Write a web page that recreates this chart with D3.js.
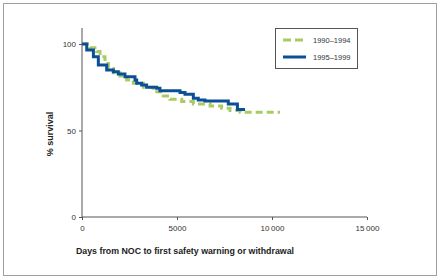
<!DOCTYPE html>
<html>
<head>
<meta charset="utf-8">
<script src="https://cdn.jsdelivr.net/npm/d3@7"></script>
<style>
  html, body { margin: 0; padding: 0; background: #fff; }
  svg { display: block; font-family: "Liberation Sans", Arial, sans-serif; }
</style>
</head>
<body>
<svg id="chart" width="440" height="279"></svg>
<script>
// ── Data (Kaplan–Meier style step curves) ──
const seriesNames = ['1990–1994', '1995–1999'];

const days9094 = [0, 420, 770, 950, 1210, 1390, 1650, 2000, 2350, 2700, 3230, 3750, 4280, 4630, 5250, 5860, 6740, 7350, 7790, 8320, 10420];
const surv9094 = [100, 97.9, 95.6, 92.7, 88.8, 85.9, 83.4, 81.5, 79.2, 77.3, 75, 72.4, 69.9, 68, 66.7, 65.3, 64.2, 62.8, 61.5, 60.5, 60.5];

const days9599 = [0, 250, 600, 860, 1300, 1650, 1910, 2260, 2790, 2880, 3140, 3400, 3930, 4100, 5160, 5420, 5860, 6120, 6470, 7700, 8180, 8580];
const surv9599 = [100, 96.5, 92.7, 87.9, 85, 84, 82.7, 81.1, 79.2, 77.3, 76.3, 75, 74.4, 73, 71.9, 70.9, 68.6, 67.6, 67, 65.3, 62.2, 62.2];

const xTicks = [0, 5000, 10000, 15000];
const yTicks = [0, 50, 100];

// ── Layout ──
const svg = d3.select('#chart');

// outer frame
svg.append('rect')
  .attr('x', 3.5).attr('y', 3.5)
  .attr('width', 433).attr('height', 272)
  .attr('fill', 'none')
  .attr('stroke', '#a0a0a0')
  .attr('stroke-width', 1);

const x = d3.scaleLinear().domain([0, 15000]).range([82, 367]);
const y = d3.scaleLinear().domain([0, 100]).range([217, 44]);

const fmt = d => d >= 10000 ? d3.format(',')(d).replace(',', '\u2009') : String(d);

// axes
const xAxis = svg.append('g')
  .attr('transform', 'translate(0,217)')
  .call(d3.axisBottom(x).tickValues(xTicks).tickSize(3).tickPadding(5).tickFormat(fmt));
const yAxis = svg.append('g')
  .attr('transform', 'translate(82,0)')
  .call(d3.axisLeft(y).tickValues(yTicks).tickSize(3).tickPadding(3));

// y axis line extends above 100
yAxis.select('.domain').attr('d', `M-0,${y(0)}V28`);
xAxis.select('.domain').attr('d', `M${x(0)},0H${x(15000)}`);

[xAxis, yAxis].forEach(ax => {
  ax.select('.domain').attr('stroke', '#555').attr('stroke-width', 1);
  ax.selectAll('.tick line').attr('stroke', '#555');
  ax.selectAll('text')
    .attr('fill', '#333')
    .attr('font-size', 8)
    .attr('font-family', '"Liberation Sans", Arial, sans-serif');
});

// axis titles
svg.append('text')
  .attr('x', 185).attr('y', 254)
  .attr('text-anchor', 'middle')
  .attr('font-size', 8.8).attr('font-weight', 'bold').attr('fill', '#222')
  .text('Days from NOC to first safety warning or withdrawal');

svg.append('text')
  .attr('transform', 'translate(53,134) rotate(-90)')
  .attr('text-anchor', 'middle')
  .attr('font-size', 9).attr('font-weight', 'bold').attr('fill', '#222')
  .text('% survival');

// ── Curves ──
const line = d3.line()
  .x(d => x(d[0]))
  .y(d => y(d[1]))
  .curve(d3.curveStepAfter);

const green = '#a9cc62';
const blue = '#0b4f97';

svg.append('path')
  .datum(d3.zip(days9094, surv9094))
  .attr('d', line)
  .attr('fill', 'none')
  .attr('stroke', green)
  .attr('stroke-width', 3)
  .attr('stroke-dasharray', '7 4');

svg.append('path')
  .datum(d3.zip(days9599, surv9599))
  .attr('d', line)
  .attr('fill', 'none')
  .attr('stroke', blue)
  .attr('stroke-width', 3);

// ── Legend ──
const lg = svg.append('g');
lg.append('rect')
  .attr('x', 275.5).attr('y', 28.5)
  .attr('width', 82).attr('height', 40)
  .attr('fill', '#fff').attr('stroke', '#555');

const legendItems = [
  { name: seriesNames[0], color: green, dash: '8 4', yy: 40 },
  { name: seriesNames[1], color: blue, dash: null, yy: 57 }
];
legendItems.forEach(it => {
  lg.append('line')
    .attr('x1', 283).attr('x2', 306)
    .attr('y1', it.yy).attr('y2', it.yy)
    .attr('stroke', it.color).attr('stroke-width', 3)
    .attr('stroke-dasharray', it.dash);
  lg.append('text')
    .attr('x', 313).attr('y', it.yy + 2.7)
    .attr('font-size', 7.5).attr('fill', '#333')
    .text(it.name);
});
</script>
</body>
</html>
